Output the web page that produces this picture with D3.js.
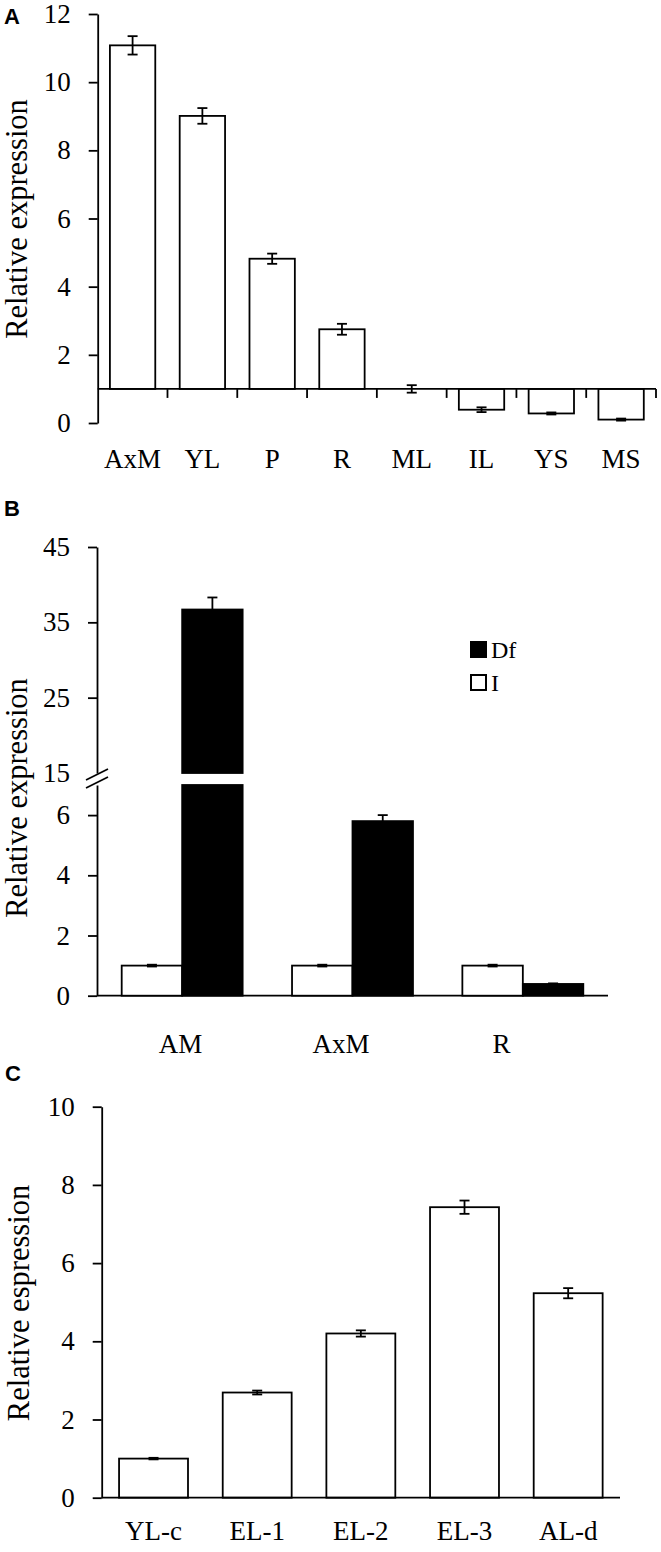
<!DOCTYPE html>
<html>
<head>
<meta charset="utf-8">
<script src="https://cdn.jsdelivr.net/npm/d3@7"></script>
<style>
    body { margin: 0; background: #fff; }
    svg { display: block; }
</style>
</head>
<body>
<svg width="661" height="1552"></svg>
<script>
// panel A
const catsA = ["AxM", "YL", "P", "R", "ML", "IL", "YS", "MS"];
const valsA = [11.08, 9.01, 4.82, 2.75, 1.0, 0.39, 0.28, 0.1];
const errsA = [0.27, 0.23, 0.15, 0.16, 0.11, 0.07, 0.03, 0.03];
const ticksA = [0, 2, 4, 6, 8, 10, 12];

// panel B
const catsB = ["AM", "AxM", "R"];
const seriesB = ["I", "Df"];
const valsBI = [1.0, 1.0, 1.0];
const errsBI = [0.03, 0.03, 0.03];
const valsBDf = [36.7, 5.8, 0.39];
const errsBDf = [1.6, 0.2, 0.02];
const ticksBLow = [0, 2, 4, 6];
const ticksBHigh = [15, 25, 35, 45];

// panel C
const catsC = ["YL-c", "EL-1", "EL-2", "EL-3", "AL-d"];
const valsC = [1.0, 2.69, 4.2, 7.43, 5.23];
const errsC = [0.02, 0.05, 0.08, 0.17, 0.13];
const ticksC = [0, 2, 4, 6, 8, 10];

const serif = '"Liberation Serif", "Times New Roman", serif';
const sans = '"Liberation Sans", Arial, sans-serif';
const SW = 1.8;

const svg = d3.select("svg");
svg.append("rect").attr("width", 661).attr("height", 1552).attr("fill", "#fff");

function panelLetter(txt, x, y) {
    svg.append("text").attr("x", x).attr("y", y).text(txt)
        .attr("font-family", sans).attr("font-weight", "bold").attr("font-size", 22);
}

function yTitle(txt, x, y) {
    svg.append("text")
        .attr("transform", `translate(${x},${y}) rotate(-90)`)
        .attr("text-anchor", "middle")
        .attr("font-family", serif).attr("font-size", 30.5)
        .text(txt);
}

function styleAxis(g) {
    g.attr("font-family", serif).attr("font-size", 27);
    g.selectAll("path, line").attr("stroke", "#000").attr("stroke-width", SW);
    g.selectAll("text").attr("font-family", serif).attr("font-size", 27).attr("fill", "#000");
}

function errBar(g, x, yTop, yBot, w) {
    g.append("line").attr("x1", x).attr("x2", x).attr("y1", yTop).attr("y2", yBot);
    g.append("line").attr("x1", x - w / 2).attr("x2", x + w / 2).attr("y1", yTop).attr("y2", yTop);
    g.append("line").attr("x1", x - w / 2).attr("x2", x + w / 2).attr("y1", yBot).attr("y2", yBot);
}

const intFmt = d3.format("d");

// ---------- A ----------
const yA = d3.scaleLinear().domain([0, 12]).range([423, 14]);
const xA = d3.scaleBand().domain(catsA).range([97.7, 656]).paddingInner(0.35).paddingOuter(0.175);

svg.append("g").attr("transform", "translate(97.7,0)")
    .call(d3.axisLeft(yA).tickValues(ticksA).tickFormat(intFmt).tickSize(9).tickSizeOuter(0).tickPadding(18))
    .call(styleAxis);

const barsA = svg.append("g");
catsA.forEach((c, i) => {
    const y0 = yA(1), y1 = yA(valsA[i]);
    barsA.append("rect")
        .attr("x", xA(c)).attr("width", xA.bandwidth())
        .attr("y", Math.min(y0, y1)).attr("height", Math.abs(y0 - y1))
        .attr("fill", "#fff").attr("stroke", "#000").attr("stroke-width", SW);
});

// x axis of A crosses at 1
const gapA = (xA.step() - xA.bandwidth()) / 2;
const bordersA = catsA.slice(1).map((c) => xA(c) - gapA).concat([xA.range()[1]]);
const axA = svg.append("g").attr("stroke", "#000").attr("stroke-width", SW);
axA.append("line").attr("x1", xA.range()[0]).attr("x2", xA.range()[1]).attr("y1", yA(1)).attr("y2", yA(1));
bordersA.forEach((bx) => {
    axA.append("line").attr("x1", bx).attr("x2", bx).attr("y1", yA(1)).attr("y2", yA(1) + 9);
});

const errA = svg.append("g").attr("stroke", "#000").attr("stroke-width", SW);
catsA.forEach((c, i) => {
    errBar(errA, xA(c) + xA.bandwidth() / 2, yA(valsA[i] + errsA[i]), yA(valsA[i] - errsA[i]), 10);
});

svg.append("g").selectAll("text").data(catsA).enter().append("text")
    .attr("x", (d) => xA(d) + xA.bandwidth() / 2)
    .attr("y", 468)
    .attr("text-anchor", "middle")
    .attr("font-family", serif).attr("font-size", 27)
    .text((d) => d);

panelLetter("A", 4, 24);
yTitle("Relative expression", 27, 219);

// ---------- B ----------
const yBLow = d3.scaleLinear().domain([0, 7]).range([995.7, 785]);
const yBHigh = d3.scaleLinear().domain([15, 45]).range([773, 547]);
const xB = d3.scaleBand().domain(catsB).range([97, 608]).paddingInner(0.29).paddingOuter(0.145);
const xBs = d3.scaleBand().domain(seriesB).range([0, xB.bandwidth()]);
const xBLabel = d3.scalePoint().domain(catsB).range([180.5, 501.5]);

svg.append("g").attr("transform", "translate(97,0)")
    .call(d3.axisLeft(yBLow).tickValues(ticksBLow).tickFormat(intFmt).tickSize(9).tickSizeOuter(0).tickPadding(18))
    .call(styleAxis);
const upperAx = svg.append("g").attr("transform", "translate(97,0)")
    .call(d3.axisLeft(yBHigh).tickValues(ticksBHigh).tickFormat(intFmt).tickSize(9).tickSizeOuter(0).tickPadding(18))
    .call(styleAxis);
upperAx.selectAll(".tick").filter((d) => d === 15).select("line").remove();

// axis break marks
const midB = (yBHigh(15) + yBLow(7)) / 2;
const brk = svg.append("g").attr("stroke", "#000").attr("stroke-width", SW);
[-4, 4].forEach((o) => {
    brk.append("line").attr("x1", 86).attr("x2", 108).attr("y1", midB + o + 5).attr("y2", midB + o - 6);
});

svg.append("line").attr("x1", 97).attr("x2", 608).attr("y1", yBLow(0)).attr("y2", yBLow(0))
    .attr("stroke", "#000").attr("stroke-width", SW);

const barsB = svg.append("g");
const errB = svg.append("g").attr("stroke", "#000").attr("stroke-width", SW);
const seriesData = { I: [valsBI, errsBI, "#fff"], Df: [valsBDf, errsBDf, "#000"] };
catsB.forEach((c, i) => {
    seriesB.forEach((s) => {
        const [vals, errs, fill] = seriesData[s];
        const v = vals[i], e = errs[i];
        const x = xB(c) + xBs(s);
        const w = xBs.bandwidth();
        const lowTop = Math.min(v, 7);
        barsB.append("rect").attr("x", x).attr("width", w)
            .attr("y", yBLow(lowTop)).attr("height", yBLow(0) - yBLow(lowTop))
            .attr("fill", fill).attr("stroke", "#000").attr("stroke-width", SW);
        if (v > 15) {
            barsB.append("rect").attr("x", x).attr("width", w)
                .attr("y", yBHigh(v)).attr("height", yBHigh(15) - yBHigh(v))
                .attr("fill", fill).attr("stroke", "#000").attr("stroke-width", SW);
            errBar(errB, x + w / 2, yBHigh(v + e), yBHigh(v - e), 10);
        } else {
            errBar(errB, x + w / 2, yBLow(v + e), yBLow(v - e), 10);
        }
    });
});

svg.append("g").selectAll("text").data(catsB).enter().append("text")
    .attr("x", (d) => xBLabel(d))
    .attr("y", 1053)
    .attr("text-anchor", "middle")
    .attr("font-family", serif).attr("font-size", 27)
    .text((d) => d);

// legend
const legend = svg.append("g");
["Df", "I"].forEach((s, i) => {
    legend.append("rect").attr("x", 471).attr("y", 642 + i * 33).attr("width", 15).attr("height", 15)
        .attr("fill", seriesData[s][2]).attr("stroke", "#000").attr("stroke-width", 2);
    legend.append("text").attr("x", 491).attr("y", 658 + i * 33)
        .attr("font-family", serif).attr("font-size", 24).text(s);
});

panelLetter("B", 4, 516);
yTitle("Relative expression", 27, 798);

// ---------- C ----------
const yC = d3.scaleLinear().domain([0, 10]).range([1497.7, 1106.7]);
const xC = d3.scaleBand().domain(catsC).range([101.7, 620]).paddingInner(0.335).paddingOuter(0.1675);

svg.append("g").attr("transform", "translate(101.7,0)")
    .call(d3.axisLeft(yC).tickValues(ticksC).tickFormat(intFmt).tickSize(9).tickSizeOuter(0).tickPadding(18))
    .call(styleAxis);

svg.append("g").selectAll("rect").data(catsC).enter().append("rect")
    .attr("x", (d) => xC(d)).attr("width", xC.bandwidth())
    .attr("y", (d, i) => yC(valsC[i]))
    .attr("height", (d, i) => yC(0) - yC(valsC[i]))
    .attr("fill", "#fff").attr("stroke", "#000").attr("stroke-width", SW);

svg.append("line").attr("x1", 101.7).attr("x2", 620).attr("y1", yC(0)).attr("y2", yC(0))
    .attr("stroke", "#000").attr("stroke-width", SW);

const errC = svg.append("g").attr("stroke", "#000").attr("stroke-width", SW);
catsC.forEach((c, i) => {
    errBar(errC, xC(c) + xC.bandwidth() / 2, yC(valsC[i] + errsC[i]), yC(valsC[i] - errsC[i]), 10);
});

svg.append("g").selectAll("text").data(catsC).enter().append("text")
    .attr("x", (d) => xC(d) + xC.bandwidth() / 2)
    .attr("y", 1540)
    .attr("text-anchor", "middle")
    .attr("font-family", serif).attr("font-size", 27)
    .text((d) => d);

panelLetter("C", 5, 1081);
yTitle("Relative espression", 29, 1303);
</script>
</body>
</html>
